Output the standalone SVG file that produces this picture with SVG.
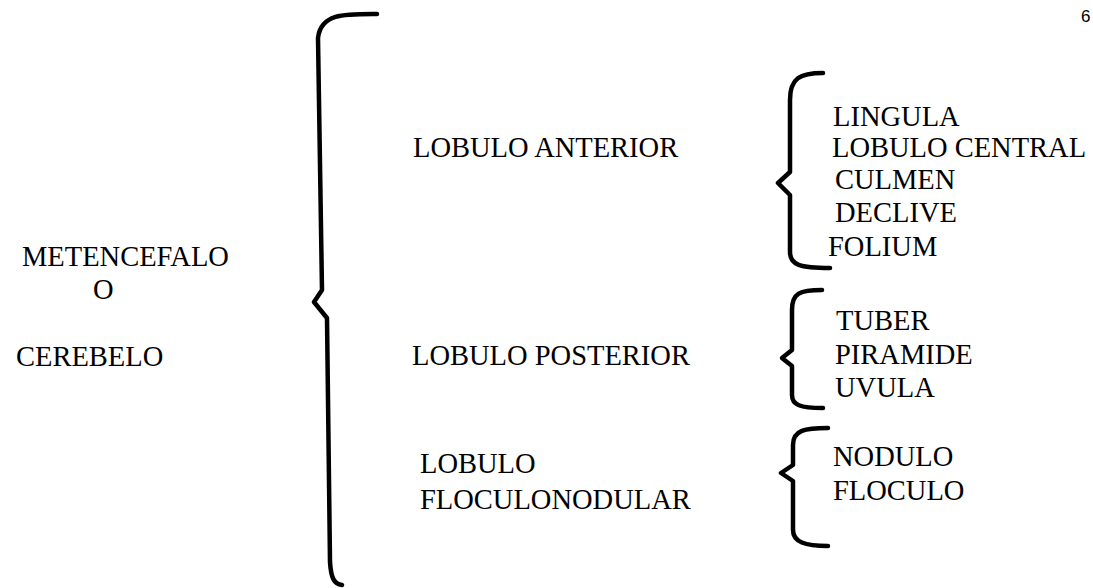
<svg xmlns="http://www.w3.org/2000/svg" width="1093" height="588" viewBox="0 0 1093 588">
  <style>
    .t { font-family: "Liberation Serif", "Times New Roman", serif; font-size: 28.5px; fill: #000; }
    .pg { font-family: "Liberation Sans", Arial, sans-serif; font-size: 17px; fill: #000; }
    .brace { fill: none; stroke: #000; stroke-width: 4.5; stroke-linecap: round; stroke-linejoin: round; }
  </style>
  <rect width="1093" height="588" fill="#fff"/>

  <!-- page number -->
  <text class="pg" x="1081" y="22">6</text>

  <!-- curly braces -->
  <g id="connectors">
    <path class="brace" d="M377,14 C345,14 321,13 318,38 L322,290 L314,302 L327,318 L330,562 C331,578 334,584 342,585"/>
    <path class="brace" d="M823,73 C800,73 790,78 790,100 L790,172 L778,183 L790,195 L790,252 C790,265 800,268 830,268"/>
    <path class="brace" d="M822,290 C800,290 792,293 792,310 L792,350 L782,358 L792,366 L792,395 C792,405 800,408 823,408"/>
    <path class="brace" d="M828,428 C805,428 793,430 793,445 L793,465 L781,473 L793,481 L793,530 C793,542 805,546 828,546"/>
  </g>

  <g id="root">
    <text class="t" x="22" y="266">METENCEFALO</text>
    <text class="t" x="93" y="299">O</text>
    <text class="t" x="16" y="366">CEREBELO</text>
  </g>

  <g id="anterior">
    <text class="t" x="413" y="157">LOBULO ANTERIOR</text>
  </g>
  <g id="anterior-parts">
    <text class="t" x="833" y="126">LINGULA</text>
    <text class="t" x="832" y="157">LOBULO CENTRAL</text>
    <text class="t" x="835" y="189">CULMEN</text>
    <text class="t" x="835" y="222">DECLIVE</text>
    <text class="t" x="828" y="256">FOLIUM</text>
  </g>

  <g id="posterior">
    <text class="t" x="412" y="365">LOBULO POSTERIOR</text>
  </g>
  <g id="posterior-parts">
    <text class="t" x="836" y="330">TUBER</text>
    <text class="t" x="835" y="364">PIRAMIDE</text>
    <text class="t" x="835" y="397">UVULA</text>
  </g>

  <g id="floculonodular">
    <text class="t" x="420" y="473">LOBULO</text>
    <text class="t" x="420" y="509">FLOCULONODULAR</text>
  </g>
  <g id="floculonodular-parts">
    <text class="t" x="833" y="466">NODULO</text>
    <text class="t" x="833" y="500">FLOCULO</text>
  </g>
</svg>
